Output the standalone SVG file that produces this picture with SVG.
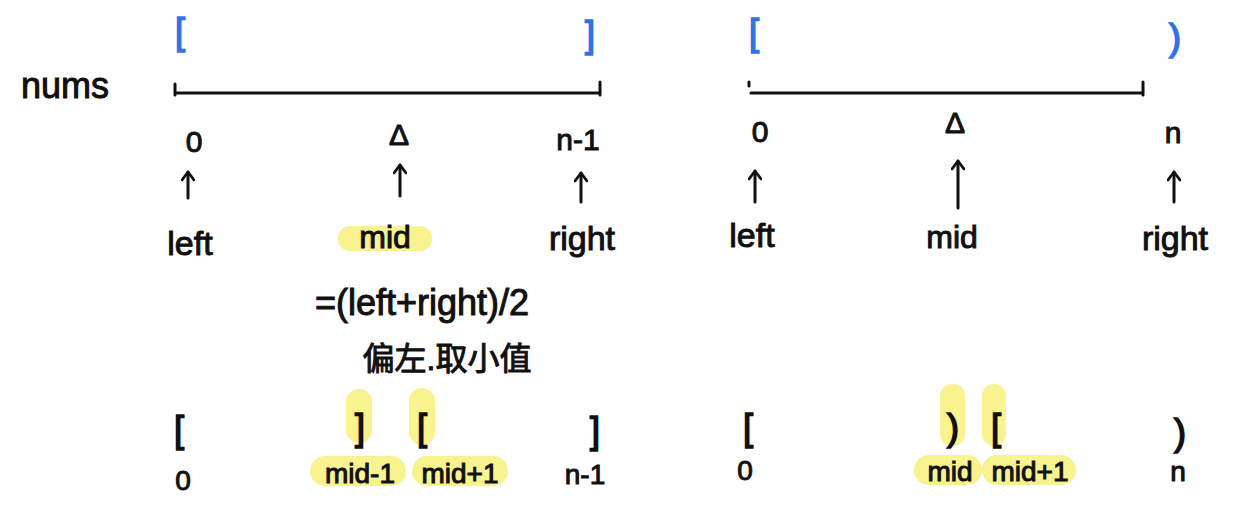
<svg xmlns="http://www.w3.org/2000/svg" width="1258" height="510" viewBox="0 0 1258 510">
<style>
.t{font-family:"Liberation Sans","Noto Sans CJK SC",sans-serif;fill:#111;stroke:#111;stroke-width:1;text-anchor:middle}
.br{font-size:36px;stroke-width:1.6}
.b{fill:#2f74e6;stroke:#2f74e6}
.ln{stroke:#111;stroke-width:3;fill:none;stroke-linecap:round}
.hl{fill:#f6ee6a;opacity:0.75}
</style>
<defs>
<marker id="ah" viewBox="0 0 12 14" refX="10" refY="7" markerWidth="12" markerHeight="14" markerUnits="userSpaceOnUse" orient="auto">
<path d="M2,1 L10,7 L2,13" fill="none" stroke="#111" stroke-width="2.8" stroke-linecap="round" stroke-linejoin="round"/>
</marker>
</defs>
<rect width="1258" height="510" fill="#fff"/>
<g id="highlights">
<rect class="hl" x="338" y="226" width="94" height="25" rx="12"/>
<rect class="hl" x="346" y="389" width="26" height="54" rx="13"/>
<rect class="hl" x="409" y="388" width="26" height="57" rx="13"/>
<rect class="hl" x="310" y="456" width="96" height="30" rx="15"/>
<rect class="hl" x="412" y="456" width="96" height="30" rx="15"/>
<rect class="hl" x="940" y="384" width="25" height="62" rx="12"/>
<rect class="hl" x="982" y="384" width="24" height="62" rx="12"/>
<rect class="hl" x="914" y="455" width="68" height="30" rx="15"/>
<rect class="hl" x="982" y="455" width="94" height="30" rx="15"/>
</g>
<g id="nums-label"><text class="t" x="65" y="98" font-size="36">nums</text></g>
<g id="left-array">
<text class="t b br" x="180" y="44">[</text>
<text class="t b br" x="590" y="47">]</text>
<path class="ln" d="M175,84 V95 M175,93 H600 M600,82 V95"/>
<text class="t" x="194" y="152" font-size="30">0</text>
<text class="t" x="399" y="145" font-size="30">Δ</text>
<text class="t" x="578" y="150" font-size="30">n-1</text>
<text class="t" x="190" y="255" font-size="34">left</text>
<text class="t" x="385" y="248" font-size="32">mid</text>
<text class="t" x="582" y="250" font-size="34">right</text>
<text class="t" x="422" y="315" font-size="36">=(left+right)/2</text>
<text class="t" x="447" y="370" font-size="32">偏左.取小值</text>
<text class="t br" x="179" y="442">[</text>
<text class="t br" x="360" y="440">]</text>
<text class="t br" x="422" y="440">[</text>
<text class="t br" x="595" y="443">]</text>
<text class="t" x="183" y="490" font-size="28">0</text>
<text class="t" x="360" y="483" font-size="28">mid-1</text>
<text class="t" x="460" y="483" font-size="28">mid+1</text>
<text class="t" x="585" y="484" font-size="28">n-1</text>
</g>
<g id="right-array">
<text class="t b br" x="754" y="45">[</text>
<text class="t b br" x="1175" y="50">)</text>
<path class="ln" d="M749,82 V86 M751,93 H1143 M1143,82 V95"/>
<text class="t" x="760" y="142" font-size="30">0</text>
<text class="t" x="955" y="133" font-size="30">Δ</text>
<text class="t" x="1173" y="143" font-size="30">n</text>
<text class="t" x="752" y="247" font-size="34">left</text>
<text class="t" x="952" y="248" font-size="32">mid</text>
<text class="t" x="1175" y="250" font-size="34">right</text>
<text class="t br" x="748" y="440">[</text>
<text class="t br" x="953" y="440">)</text>
<text class="t br" x="996" y="440">[</text>
<text class="t br" x="1180" y="445">)</text>
<text class="t" x="745" y="480" font-size="28">0</text>
<text class="t" x="950" y="481" font-size="28">mid</text>
<text class="t" x="1030" y="481" font-size="28">mid+1</text>
<text class="t" x="1178" y="481" font-size="28">n</text>
</g>
<g id="connectors">
<path class="ln" d="M188,198 V172" marker-end="url(#ah)"/>
<path class="ln" d="M400,196 V165" marker-end="url(#ah)"/>
<path class="ln" d="M581,202 V173" marker-end="url(#ah)"/>
<path class="ln" d="M755,202 V171" marker-end="url(#ah)"/>
<path class="ln" d="M958,208 V161" marker-end="url(#ah)"/>
<path class="ln" d="M1174,202 V172" marker-end="url(#ah)"/>
</g>
</svg>
